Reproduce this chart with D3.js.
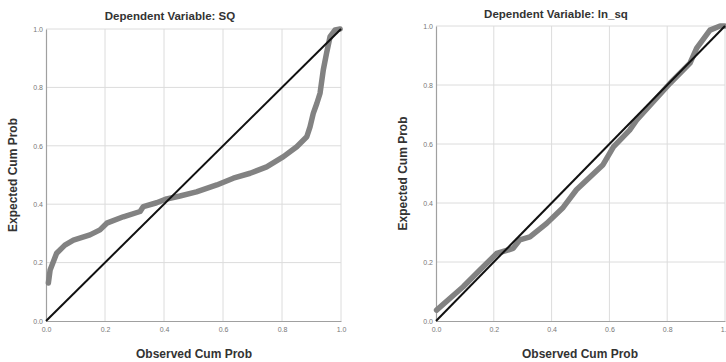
<!DOCTYPE html>
<html><head><meta charset="utf-8">
<script src="https://cdn.jsdelivr.net/npm/d3@7"></script>
<style>body{margin:0;background:#fff;} svg{display:block;font-family:"Liberation Sans",Arial,sans-serif;}</style>
</head><body>
<svg id="c" width="726" height="362"></svg>
<script>
const titles = ["Dependent Variable: SQ", "Dependent Variable: ln_sq"];
const xLabel = "Observed Cum Prob";
const yLabel = "Expected Cum Prob";
const ticks = [0, 0.2, 0.4, 0.6, 0.8, 1.0];
const tickLabels = ["0.0", "0.2", "0.4", "0.6", "0.8", "1.0"];

// Left panel (SQ): observed vs expected cumulative probability
const sqObserved = [0.008, 0.014, 0.036, 0.064, 0.093, 0.149, 0.183, 0.206, 0.262, 0.319, 0.33, 0.375, 0.409, 0.454, 0.51, 0.579, 0.635, 0.692, 0.748, 0.805, 0.85, 0.884, 0.895, 0.906, 0.918, 0.929, 0.94, 0.951, 0.963, 0.98, 0.997];
const sqExpected = [0.13, 0.175, 0.232, 0.26, 0.277, 0.295, 0.312, 0.335, 0.357, 0.375, 0.392, 0.405, 0.418, 0.428, 0.442, 0.466, 0.489, 0.506, 0.528, 0.563, 0.597, 0.631, 0.665, 0.711, 0.745, 0.78, 0.86, 0.917, 0.974, 0.997, 1.0];

// Right panel (ln_sq)
const lnObserved = [0.002, 0.094, 0.152, 0.21, 0.267, 0.29, 0.325, 0.383, 0.44, 0.486, 0.578, 0.614, 0.67, 0.694, 0.81, 0.879, 0.902, 0.948, 0.983, 0.998];
const lnExpected = [0.037, 0.116, 0.173, 0.229, 0.246, 0.275, 0.285, 0.331, 0.385, 0.445, 0.53, 0.59, 0.647, 0.681, 0.806, 0.874, 0.925, 0.986, 1.0, 1.0];

const panels = [
  {obs: sqObserved, exp: sqExpected, x0: 46, x1: 341, y0: 321, y1: 29, title: titles[0], tx: 170, ty: 20, ylx: 13, xlx: 194},
  {obs: lnObserved, exp: lnExpected, x0: 436, x1: 725, y0: 321, y1: 26, title: titles[1], tx: 556, ty: 18, ylx: 403, xlx: 580}
];

const svg = d3.select("#c");

panels.forEach(p => {
  const x = d3.scaleLinear().domain([0, 1]).range([p.x0, p.x1]);
  const y = d3.scaleLinear().domain([0, 1]).range([p.y0, p.y1]);
  const g = svg.append("g");

  // grid
  g.selectAll(".gx").data(ticks.slice(1)).join("line")
    .attr("x1", d => x(d)).attr("x2", d => x(d)).attr("y1", y(0)).attr("y2", y(1))
    .attr("stroke", "#dcdcdc").attr("stroke-width", 1);
  g.selectAll(".gy").data(ticks.slice(1)).join("line")
    .attr("class", "gy")
    .attr("x1", x(0)).attr("x2", x(1)).attr("y1", d => y(d)).attr("y2", d => y(d))
    .attr("stroke", "#dcdcdc").attr("stroke-width", 1);

  // axes
  const xa = g.append("g").attr("transform", `translate(0,${y(0)})`)
    .call(d3.axisBottom(x).tickValues(ticks).tickFormat((d, i) => tickLabels[i]).tickSize(0).tickPadding(6));
  const ya = g.append("g").attr("transform", `translate(${x(0)},0)`)
    .call(d3.axisLeft(y).tickValues(ticks).tickFormat((d, i) => tickLabels[i]).tickSize(0).tickPadding(3));
  [xa, ya].forEach(a => {
    a.select(".domain").attr("stroke", "#a0a0a0").attr("stroke-width", 1.2);
    a.selectAll("text").attr("fill", "#777").style("font-size", "7px").style("font-family", "Liberation Sans, Arial, sans-serif");
  });

  // data band
  const pts = p.obs.map((v, i) => [v, p.exp[i]]);
  g.append("path").datum(pts)
    .attr("d", d3.line().x(d => x(d[0])).y(d => y(d[1])).curve(d3.curveLinear))
    .attr("fill", "none").attr("stroke", "#828282").attr("stroke-width", 5.5)
    .attr("stroke-linejoin", "round").attr("stroke-linecap", "round");

  // reference diagonal
  g.append("line").attr("x1", x(0)).attr("y1", y(0)).attr("x2", x(1)).attr("y2", y(1))
    .attr("stroke", "#111").attr("stroke-width", 2);

  // title and labels
  g.append("text").attr("x", p.tx).attr("y", p.ty).attr("text-anchor", "middle")
    .attr("fill", "#333").style("font-size", "11.5px").style("font-weight", "bold").text(p.title);
  g.append("text").attr("x", p.xlx).attr("y", 358).attr("text-anchor", "middle")
    .attr("fill", "#333").style("font-size", "12px").style("font-weight", "bold").text(xLabel);
  g.append("text").attr("transform", `translate(${p.ylx + 4},${(p.y0 + p.y1) / 2}) rotate(-90)`)
    .attr("text-anchor", "middle")
    .attr("fill", "#333").style("font-size", "12px").style("font-weight", "bold").text(yLabel);
});
</script>
</body></html>
